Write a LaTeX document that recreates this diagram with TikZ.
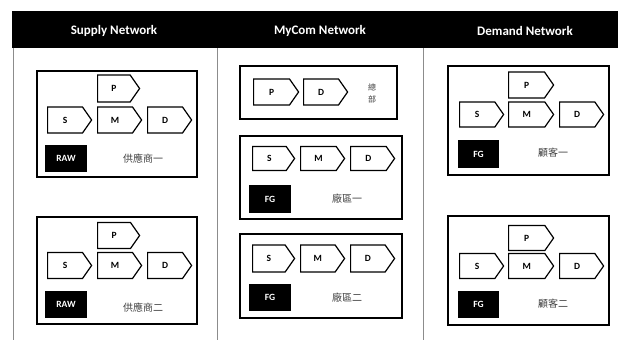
\documentclass[tikz,border=0pt]{standalone}
\usepackage{fontspec}
\setsansfont{Carlito}
\newfontfamily\cjk{Noto Sans CJK TC}
\usetikzlibrary{shapes.symbols}

\tikzset{
  stage/.style={shape=signal, signal to=east, signal pointer angle=110,
    draw=black, line width=1.2pt, fill=white, anchor=west,
    minimum width=44pt, minimum height=26pt, inner sep=0pt,
    font=\sffamily\bfseries\fontsize{9.5}{10}\selectfont},
  stock/.style={fill=black, text=white, minimum width=42pt,
    minimum height=27pt, inner sep=0pt,
    font=\sffamily\bfseries\fontsize{9.5}{10}\selectfont},
  unit/.style={draw=black, line width=1.4pt},
  site/.style={text=black!75, font=\cjk\fontsize{10}{12}\selectfont},
  title/.style={text=white, font=\sffamily\bfseries\fontsize{13}{15}\selectfont},
  divider/.style={draw=black!45, line width=0.8pt}
}

\begin{document}
\begin{tikzpicture}[x=1pt,y=-1pt]
    \useasboundingbox (0,0) rectangle (618,340);

    % header band and column lines
    \fill[black] (12,11) rectangle (618,48);
    \node[title] (supply) at (114,31) {Supply Network};
    \node[title] (mycom) at (320,31) {MyCom Network};
    \node[title] (demand) at (525,31) {Demand Network};
    \draw[divider] (13,48) -- (13,340);
    \draw[divider] (217,48) -- (217,340);
    \draw[divider] (423,48) -- (423,340);

    % supply network
    \draw[unit] (37,71) rectangle (197,177);
    \node[stage, minimum width=42pt, minimum height=27pt] (s1p) at (97,88.5) {P};
    \node[stage] (s1s) at (47,120) {S};
    \node[stage] (s1m) at (97,120) {M};
    \node[stage] (s1d) at (147,120) {D};
    \node[stock] (s1raw) at (66,158) {RAW};
    \node[site] (s1name) at (143,159) {供應商一};

    \draw[unit] (37,217) rectangle (197,324);
    \node[stage, minimum width=42pt, minimum height=26pt] (s2p) at (97,235.5) {P};
    \node[stage] (s2s) at (47,265.5) {S};
    \node[stage] (s2m) at (97,265.5) {M};
    \node[stage] (s2d) at (147,265.5) {D};
    \node[stock] (s2raw) at (66,304) {RAW};
    \node[site] (s2name) at (143,308) {供應商二};

    % mycom network
    \draw[unit] (240,66) rectangle (397,119);
    \node[stage, minimum width=45pt] (hqp) at (253,92) {P};
    \node[stage] (hqd) at (303,92) {D};
    \node[site, align=center, font=\cjk\fontsize{8}{10}\selectfont]
        (hqname) at (372,93) {總\\[2pt]部};

    \draw[unit] (240,136) rectangle (402,219);
    \node[stage, minimum width=42pt, minimum height=24pt] (f1s) at (252,158.5) {S};
    \node[stage, minimum height=24pt] (f1m) at (300,158.5) {M};
    \node[stage, minimum height=24pt] (f1d) at (350,158.5) {D};
    \node[stock, minimum height=28pt] (f1fg) at (270,199) {FG};
    \node[site] (f1name) at (347,199) {廠區一};

    \draw[unit] (240,234) rectangle (402,318);
    \node[stage, minimum width=42pt, minimum height=27pt] (f2s) at (252,258.5) {S};
    \node[stage, minimum height=27pt] (f2m) at (300,258.5) {M};
    \node[stage, minimum height=27pt] (f2d) at (350,258.5) {D};
    \node[stock] (f2fg) at (270,297.5) {FG};
    \node[site] (f2name) at (347,298) {廠區二};

    % demand network
    \draw[unit] (448,66) rectangle (609,175);
    \node[stage, minimum width=45pt] (c1p) at (508,85) {P};
    \node[stage, minimum height=25pt] (c1s) at (459,114.5) {S};
    \node[stage, minimum width=45pt, minimum height=25pt] (c1m) at (508,114.5) {M};
    \node[stage, minimum height=25pt] (c1d) at (559,114.5) {D};
    \node[stock, minimum width=41pt, minimum height=28pt] (c1fg) at (478.5,154) {FG};
    \node[site] (c1name) at (553,153) {顧客一};

    \draw[unit] (448,216) rectangle (609,325);
    \node[stage, minimum width=45pt, minimum height=25pt] (c2p) at (508,238) {P};
    \node[stage, minimum height=25pt] (c2s) at (459,266) {S};
    \node[stage, minimum width=45pt, minimum height=25pt] (c2m) at (508,266) {M};
    \node[stage, minimum height=25pt] (c2d) at (559,266) {D};
    \node[stock, minimum width=41pt] (c2fg) at (478.5,304.5) {FG};
    \node[site] (c2name) at (553,304) {顧客二};
\end{tikzpicture}
\end{document}
